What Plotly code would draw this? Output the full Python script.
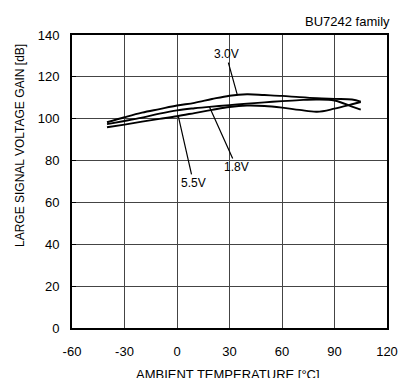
import plotly.graph_objects as go

# Temperaturas [°C]
temps = [-40, -30, -20, -10, 0, 10, 20, 30, 40, 50, 60, 70, 80, 90, 100, 105]

# Ganancia [dB] por tensión de alimentación
gain_30v = [98.3, 100.7, 102.9, 104.6, 106.3, 107.6, 109.4, 111.0, 111.7, 111.3, 110.9, 110.3, 109.8, 109.5, 109.2, 108.2]
gain_18v = [97.4, 98.9, 100.5, 102.4, 104.0, 105.0, 105.8, 106.5, 107.2, 107.8, 108.4, 108.9, 109.2, 108.7, 105.8, 104.3]
gain_55v = [95.9, 97.2, 98.6, 99.9, 101.2, 102.7, 104.2, 105.6, 106.3, 106.1, 105.3, 104.2, 103.3, 104.8, 106.9, 108.0]

# Etiquetas: texto, punto señalado, posición del texto
labels = ['3.0V', '1.8V', '5.5V']
label_pt_x = [34.5, 18.5, 0.8]
label_pt_y = [111.3, 105.7, 101.0]
label_txt_x = [28.0, 34.0, 9.4]
label_txt_y = [130.9, 76.9, 69.3]

x_ticks = [-60, -30, 0, 30, 60, 90, 120]
x_tick_text = ['-60', '-30', '0', '30', '60', '90', '120']
y_ticks = [0, 20, 40, 60, 80, 100, 120, 140]

fig = go.Figure()
for g in [gain_30v, gain_18v, gain_55v]:
    fig.add_trace(go.Scatter(x=temps, y=g, mode='lines', line=dict(color='black', width=1.9),
                             line_shape='spline', showlegend=False))

for txt, px, py, tx, ty in zip(labels, label_pt_x, label_pt_y, label_txt_x, label_txt_y):
    fig.add_annotation(x=px, y=py, ax=tx, ay=ty, axref='x', ayref='y', text=txt,
                       showarrow=True, arrowhead=0, arrowwidth=1.2, arrowcolor='black',
                       font=dict(size=12, color='black'))

fig.add_annotation(x=1, y=1, xref='paper', yref='paper', xanchor='right', yanchor='bottom',
                   xshift=5, yshift=4, text='BU7242 family', showarrow=False,
                   font=dict(size=13, color='black'))

# Títulos de ejes como anotaciones
fig.add_annotation(x=0.5, y=0, xref='paper', yref='paper', xanchor='center', yanchor='top',
                   xshift=-2, yshift=-37, text='AMBIENT TEMPERATURE [°C]', showarrow=False,
                   font=dict(size=13, color='black'))
fig.add_annotation(x=0, y=1, xref='paper', yref='paper', xanchor='center', yanchor='middle',
                   xshift=-52, yshift=-111, text='LARGE SIGNAL VOLTAGE GAIN [dB]', textangle=-90,
                   showarrow=False, font=dict(size=12, color='black'))

fig.update_xaxes(range=[-60, 120], tickvals=x_ticks, ticktext=x_tick_text, showgrid=True,
                 gridcolor='#444', gridwidth=1, automargin=False,
                 showline=True, linecolor='black', linewidth=2, mirror=True, zeroline=False,
                 ticks='', ticklabelstandoff=10, tickfont=dict(size=13, color='black'))
fig.update_yaxes(range=[0, 140], tickvals=y_ticks, showgrid=True, gridcolor='#444', gridwidth=1,
                 automargin=False,
                 showline=True, linecolor='black', linewidth=2, mirror=True, zeroline=False,
                 ticks='inside', ticklen=4, tickcolor='black', ticklabelstandoff=8,
                 tickfont=dict(size=13, color='black'))

fig.update_layout(width=398, height=378, margin=dict(l=72, r=11, t=35, b=50),
                  plot_bgcolor='white', paper_bgcolor='white',
                  font=dict(family='Liberation Sans, Arial, sans-serif', color='black'))

# sin margen del body para que la figura empiece en (0, 0)
fig.write_html('out.html', config={'displayModeBar': False},
               post_script="document.body.style.margin='0';document.body.style.overflow='hidden';")
